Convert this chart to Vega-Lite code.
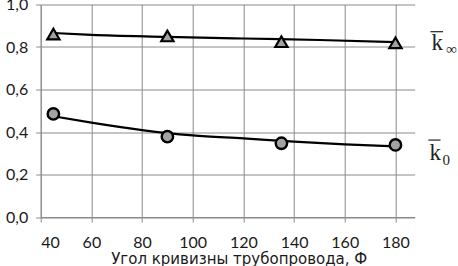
{
  "$schema": "https://vega.github.io/schema/vega-lite/v6.json",
  "width": 374,
  "height": 212.5,
  "autosize": "none",
  "padding": {"left": 40.7, "top": 4.5, "right": 43.3, "bottom": 49},
  "background": "white",
  "config": {
    "view": {"stroke": null},
    "font": "Lato",
    "axis": {
      "gridColor": "#8a8a8a",
      "gridWidth": 1,
      "gridOpacity": 1,
      "domainColor": "#8a8a8a",
      "domainWidth": 1,
      "tickColor": "#8a8a8a",
      "tickSize": 5,
      "labelFont": "Lato",
      "labelFontSize": 16,
      "labelColor": "#1a1a1a",
      "titleFont": "DejaVu Sans",
      "titleFontWeight": "normal",
      "titleFontSize": 15,
      "titleColor": "#1a1a1a"
    }
  },
  "datasets": {
    "pts": [
      {"phi": 45, "k": 0.861, "series": "kinf"},
      {"phi": 90, "k": 0.852, "series": "kinf"},
      {"phi": 135, "k": 0.825, "series": "kinf"},
      {"phi": 180, "k": 0.82, "series": "kinf"},
      {"phi": 45, "k": 0.485, "series": "k0"},
      {"phi": 90, "k": 0.378, "series": "k0"},
      {"phi": 135, "k": 0.347, "series": "k0"},
      {"phi": 180, "k": 0.339, "series": "k0"}
    ],
    "trend": [
      {"phi": 45, "k": 0.866, "series": "kinf"},
      {"phi": 60, "k": 0.857, "series": "kinf"},
      {"phi": 90, "k": 0.848, "series": "kinf"},
      {"phi": 120, "k": 0.84, "series": "kinf"},
      {"phi": 150, "k": 0.833, "series": "kinf"},
      {"phi": 180, "k": 0.823, "series": "kinf"},
      {"phi": 45, "k": 0.474, "series": "k0"},
      {"phi": 60, "k": 0.444, "series": "k0"},
      {"phi": 80, "k": 0.409, "series": "k0"},
      {"phi": 90, "k": 0.395, "series": "k0"},
      {"phi": 100, "k": 0.384, "series": "k0"},
      {"phi": 120, "k": 0.37, "series": "k0"},
      {"phi": 140, "k": 0.355, "series": "k0"},
      {"phi": 160, "k": 0.342, "series": "k0"},
      {"phi": 180, "k": 0.332, "series": "k0"}
    ],
    "letters": [
      {"phi": 196.5, "k": 0.786, "t": "k"},
      {"phi": 195.7, "k": 0.268, "t": "k"}
    ],
    "subs": [
      {"phi": 200.1, "k": 0.768, "t": "∞"},
      {"phi": 198.6, "k": 0.245, "t": "0"}
    ],
    "bars": [
      {"phi": 193.8, "phi2": 198.8, "k": 0.872},
      {"phi": 193.0, "phi2": 197.8, "k": 0.362}
    ]
  },
  "layer": [
    {
      "data": {"name": "trend"},
      "mark": {"type": "line", "color": "black", "strokeWidth": 2.2, "interpolate": "monotone"},
      "encoding": {
        "x": {
          "field": "phi", "type": "quantitative",
          "scale": {"domain": [40, 187.6], "nice": false, "zero": false},
          "axis": {
            "values": [40, 60, 80, 100, 120, 140, 160, 180],
            "grid": true,
            "labelPadding": 12,
            "title": "Угол кривизны трубопровода,  Ф",
            "titleAnchor": "middle",
            "titleX": 198,
            "titleY": 46.5,
            "titleBaseline": "alphabetic"
          }
        },
        "y": {
          "field": "k", "type": "quantitative",
          "scale": {"domain": [0, 1], "nice": false},
          "axis": {
            "values": [0, 0.2, 0.4, 0.6, 0.8, 1.0],
            "grid": true,
            "labelPadding": 8,
            "title": null,
            "labelExpr": "replace(format(datum.value, '.1f'), '.', ',')"
          }
        },
        "detail": {"field": "series"}
      }
    },
    {
      "data": {"name": "pts"},
      "transform": [{"filter": "datum.series == 'kinf'"}],
      "mark": {"type": "point", "shape": "triangle-up", "filled": true, "fill": "#a3a3a3", "stroke": "black", "strokeWidth": 2.2, "size": 150, "opacity": 1},
      "encoding": {
        "x": {"field": "phi", "type": "quantitative"},
        "y": {"field": "k", "type": "quantitative"}
      }
    },
    {
      "data": {"name": "pts"},
      "transform": [{"filter": "datum.series == 'k0'"}],
      "mark": {"type": "point", "shape": "circle", "filled": true, "fill": "#a3a3a3", "stroke": "black", "strokeWidth": 2.4, "size": 130, "opacity": 1},
      "encoding": {
        "x": {"field": "phi", "type": "quantitative"},
        "y": {"field": "k", "type": "quantitative"}
      }
    },
    {
      "data": {"name": "letters"},
      "mark": {"type": "text", "font": "Liberation Serif", "fontSize": 23, "align": "center", "baseline": "alphabetic", "color": "#222"},
      "encoding": {
        "x": {"field": "phi", "type": "quantitative"},
        "y": {"field": "k", "type": "quantitative"},
        "text": {"field": "t"}
      }
    },
    {
      "data": {"name": "subs"},
      "mark": {"type": "text", "font": "Liberation Serif", "fontSize": 15, "align": "left", "baseline": "alphabetic", "color": "#222"},
      "encoding": {
        "x": {"field": "phi", "type": "quantitative"},
        "y": {"field": "k", "type": "quantitative"},
        "text": {"field": "t"}
      }
    },
    {
      "data": {"name": "bars"},
      "mark": {"type": "rule", "color": "#222", "strokeWidth": 1.2},
      "encoding": {
        "x": {"field": "phi", "type": "quantitative"},
        "x2": {"field": "phi2"},
        "y": {"field": "k", "type": "quantitative"}
      }
    }
  ]
}
